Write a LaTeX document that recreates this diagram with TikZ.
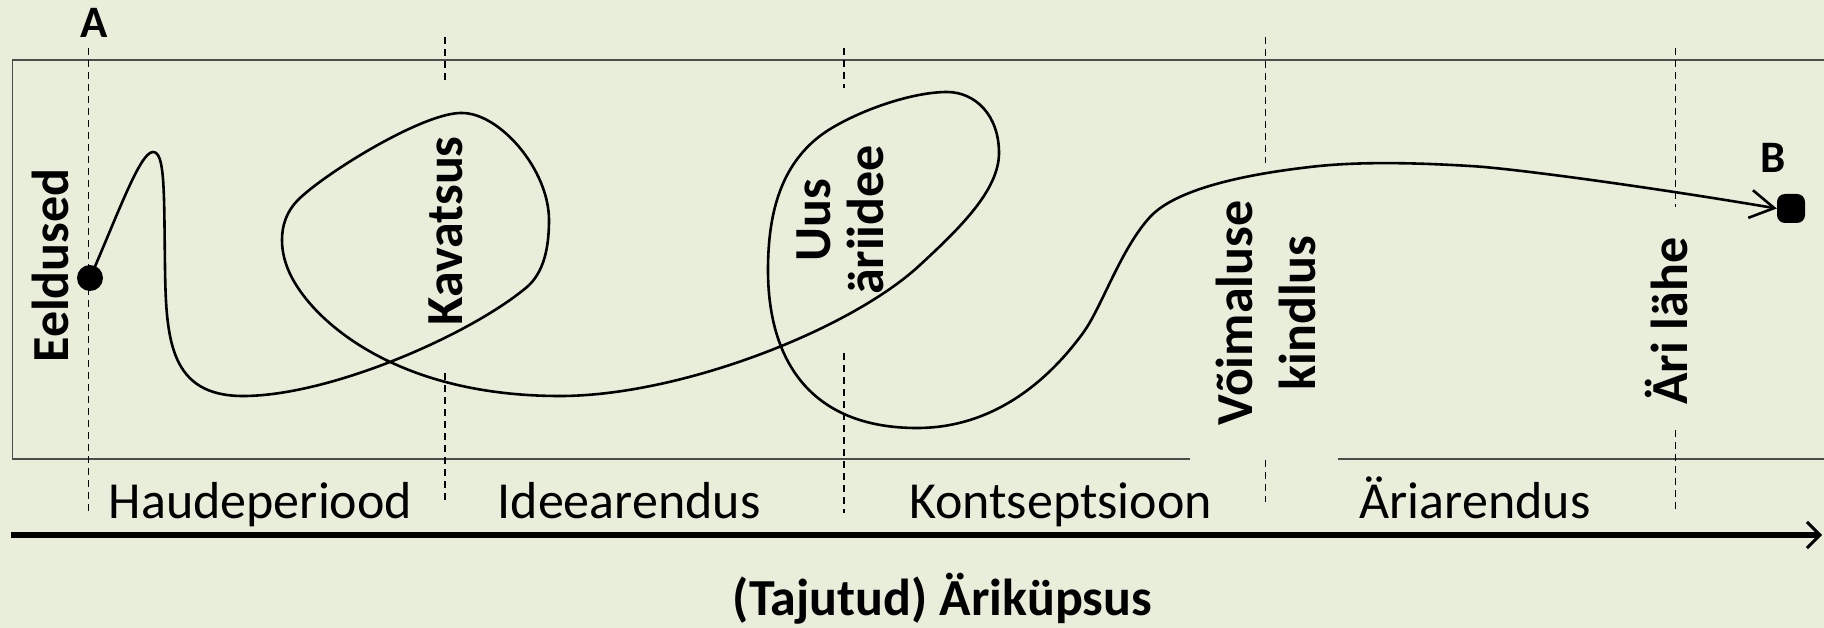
\documentclass[tikz,border=0pt]{standalone}
\usepackage{fontspec}
\setmainfont{Carlito}
\usetikzlibrary{arrows.meta}
\definecolor{bg}{HTML}{E9EEDA}
\begin{document}
\begin{tikzpicture}[x=1pt,y=-1pt,
  lbl/.style={inner sep=0, anchor=base, font=\fontsize{52}{62}\selectfont},
  ttl/.style={inner sep=0, anchor=base, font=\fontsize{52}{62}\selectfont\bfseries},
  ptlbl/.style={inner sep=0, anchor=base, font=\fontsize{45}{54}\selectfont\bfseries},
  vlbl/.style={inner sep=0, rotate=90, anchor=base, font=\fontsize{52}{62}\selectfont\bfseries},
  guide/.style={line width=1.8pt, dash pattern=on 7pt off 5pt},
  frame/.style={line width=1.5pt, draw=black!70},
  curve/.style={line width=2.6pt, line join=round, line cap=round},
  axis/.style={line width=5.5pt}]
\useasboundingbox (0,0) rectangle (1824,628);
\fill[bg] (0,0) rectangle (1824,628);

% frame
\draw[frame] (1824,60) -- (12.5,60) -- (12.5,459) -- (1190,459);
\draw[frame] (1338,459) -- (1824,459);

% dashed guides
\draw[guide] (88.5,48) -- (88.5,513);
\draw[guide] (445,37) -- (445,83);
\draw[guide] (445,373) -- (445,503);
\draw[guide] (844,48) -- (844,88);
\draw[guide] (844,353) -- (844,513);
\draw[guide] (1265.5,37) -- (1265.5,163);
\draw[guide] (1265.5,460) -- (1265.5,502);
\draw[guide] (1675.5,48) -- (1675.5,207);
\draw[guide] (1675.5,430) -- (1675.5,513);

% labels
\node[ptlbl] (A) at (94,38) {A};
\node[ptlbl] (B) at (1773,173) {B};
\node[vlbl] (eeldused) at (68,265.5) {Eeldused};
\node[vlbl] (kavatsus) at (462,231) {Kavatsus};
\node[vlbl, align=center, font=\fontsize{52}{53}\selectfont\bfseries] (uus) at (883,220) {Uus\\äriidee};
\node[vlbl, align=center, font=\fontsize{52}{63}\selectfont\bfseries] (voimaluse) at (1315,313) {Võimaluse\\kindlus};
\node[vlbl] (arilahe) at (1687,321) {Äri lähe};

\node[lbl] (haude) at (260.5,518) {Haudeperiood};
\node[lbl] (idee) at (629,518) {Ideearendus};
\node[lbl] (konts) at (1060.5,518) {Kontseptsioon};
\node[lbl] (ariar) at (1475,518) {Äriarendus};
\node[ttl] (title) at (942.5,615) {(Tajutud) Äriküpsus};

% axis
\coordinate (axL) at (11,535);
\coordinate (axR) at (1822,535);
\draw[axis, -{Straight Barb[length=13pt,width=26pt,line width=3pt]}] (axL) -- (axR);

% end points
\node[circle, fill=black, minimum size=26pt, inner sep=0] (dotA) at (90,278) {};
\node[rectangle, fill=black, minimum width=28pt, minimum height=29pt, rounded corners=8pt, inner sep=0] (dotB) at (1791,208.5) {};

% path
\draw[curve, -{Straight Barb[length=24pt,width=28pt]}] (dotA.center)
  .. controls (118,214) and (140,152) .. (153,152)
  .. controls (165,152) and (164,190) .. (165,267)
  .. controls (166,340) and (170,396) .. (243,396)
  .. controls (330,396) and (470,335) .. (527,287)
  .. controls (543,273) and (549,250) .. (549,220)
  .. controls (549,170) and (500,113) .. (462,113)
  .. controls (425,112) and (330,170) .. (300,198)
  .. controls (285,212) and (282,228) .. (282,240)
  .. controls (282,265) and (295,287) .. (313,307)
  .. controls (345,342) and (420,396) .. (560,396)
  .. controls (680,396) and (850,330) .. (920,265)
  .. controls (960,228) and (999,190) .. (999,153)
  .. controls (999,115) and (975,92) .. (947,92)
  .. controls (905,92) and (840,118) .. (815,140)
  .. controls (780,170) and (768,215) .. (768,270)
  .. controls (768,360) and (810,428) .. (917,428)
  .. controls (990,428) and (1045,385) .. (1083,333)
  .. controls (1102,307) and (1120,250) .. (1150,217)
  .. controls (1175,190) and (1240,175) .. (1310,167)
  .. controls (1360,161) and (1420,163) .. (1470,166)
  .. controls (1510,168) and (1650,187) .. (dotB.west);
\end{tikzpicture}
\end{document}
